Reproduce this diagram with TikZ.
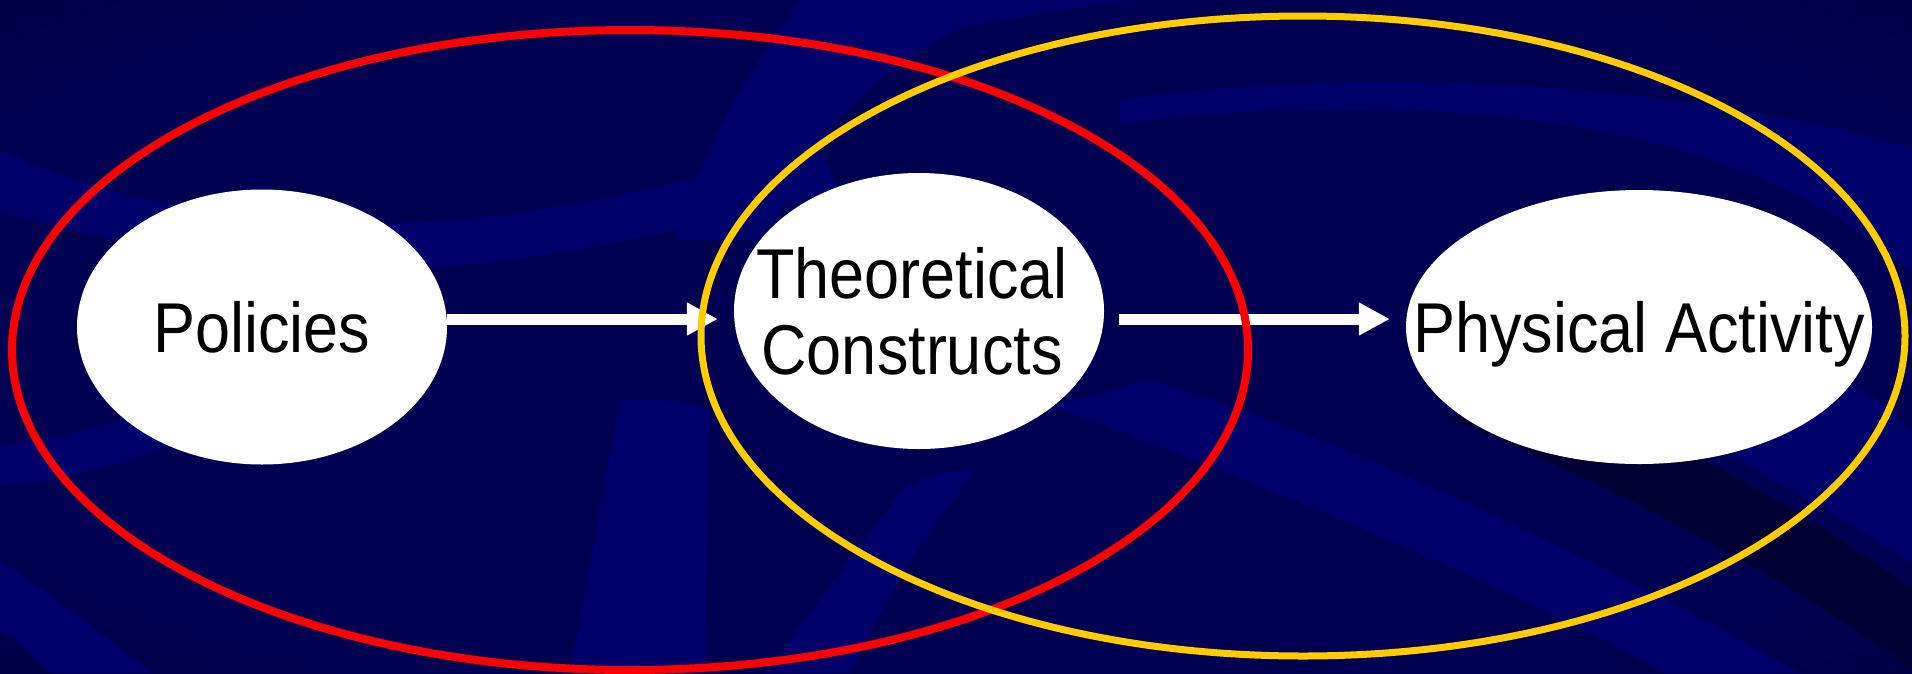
\documentclass[tikz,border=0pt]{standalone}
\usepackage{fontspec}
\setmainfont{Liberation Sans}
\usetikzlibrary{arrows.meta, shapes.geometric}

\definecolor{navydeep}{RGB}{0,0,26}
\definecolor{navyshade}{RGB}{0,0,50}
\definecolor{navymid}{RGB}{0,0,82}
\definecolor{navyband}{RGB}{0,0,106}
\definecolor{ringred}{RGB}{255,0,0}
\definecolor{ringgold}{RGB}{255,204,0}

\pgfdeclareradialshading{bgglow}{\pgfpoint{0bp}{0bp}}{color(0bp)=(navymid); color(28bp)=(navymid); color(50bp)=(navyshade); color(71bp)=(navydeep)}

\newcommand{\tallword}[1]{\scalebox{1}[1.12]{#1}}

\tikzset{
  bubble/.style={ellipse, fill=white, inner sep=0pt},
  words/.style={font=\fontsize{63}{76}\selectfont, text=black, align=center, inner sep=0pt, text depth=0pt},
  flow/.style={draw=white, line width=11pt, -{Triangle[length=31pt,width=31pt]}},
  ring/.style={line width=7pt},
  band/.style={fill=navyband},
  gap/.style={fill=navyshade},
}

\begin{document}
\begin{tikzpicture}[x=1pt, y=-1pt]
  \useasboundingbox (0,0) rectangle (1912,673);
  % background
  \shade[shading=bgglow] (0,0) rectangle (1912,673);
  \fill[band] (0,150) .. controls (120,205) and (260,228) .. (420,222)
    .. controls (560,215) and (680,180) .. (820,150) -- (840,190)
    .. controls (700,225) and (560,262) .. (420,268)
    .. controls (260,270) and (120,245) .. (0,212) -- cycle;
  \fill[band] (800,0) .. controls (740,80) and (700,160) .. (675,240) -- (770,240)
    .. controls (800,150) and (860,80) .. (960,28)
    .. controls (1060,10) and (1120,0) .. (1150,0) -- cycle;
  \fill[band] (1120,100) .. controls (1400,60) and (1700,90) .. (1912,147) -- (1912,273)
    .. controls (1830,200) and (1700,130) .. (1450,112)
    .. controls (1300,105) and (1200,112) .. (1120,125) -- cycle;
  \fill[band] (0,446) .. controls (50,438) and (100,428) .. (150,412) -- (175,444)
    .. controls (120,465) and (60,480) .. (0,486) -- cycle;
  \fill[band] (0,560) .. controls (60,600) and (110,640) .. (152,673) -- (50,673)
    .. controls (32,655) and (15,640) .. (0,630) -- cycle;
  \fill[band] (620,400) .. controls (660,398) and (690,402) .. (710,410) -- (705,673) -- (570,673) -- cycle;
  \fill[band] (905,486) .. controls (930,475) and (950,470) .. (975,470)
    .. controls (920,540) and (880,610) .. (850,673) -- (765,673) -- cycle;
  \fill[band] (1052,406) .. controls (1250,480) and (1500,580) .. (1665,673) -- (1800,673)
    .. controls (1600,560) and (1350,440) .. (1150,380) -- cycle;
  \fill[gap] (1450,419) .. controls (1650,500) and (1820,600) .. (1912,669) -- (1912,590)
    .. controls (1820,520) and (1680,440) .. (1560,400) -- cycle;
  \fill[band] (1733,456) .. controls (1800,495) and (1870,535) .. (1912,563) -- (1912,430)
    .. controls (1880,400) and (1850,380) .. (1820,370) -- cycle;

  % bubbles
  \node[bubble, minimum width=370pt, minimum height=275pt] (pol) at (262,327) {};
  \node[bubble, minimum width=370pt, minimum height=276pt] (tc) at (919,311) {};
  \node[bubble, minimum width=466pt, minimum height=274pt] (pa) at (1639,327) {};
  \node[words] (poltxt) at (pol) {\tallword{Policies}};
  \node[words] (tctxt) at ([xshift=-7pt]tc.center) {\tallword{Theoretical}\\\tallword{Constructs}};
  \node[words] (patxt) at (pa) {\tallword{Physical Activity}};

  % arrows
  \coordinate (lane) at (0,319);
  \draw[flow] (pol.east |- lane) -- ([xshift=-16pt]tc.west |- lane);
  \draw[flow] ([xshift=15pt]tc.east |- lane) -- ([xshift=-16pt]pa.west |- lane);

  % rings
  \draw[ring, ringred, line width=8pt] (630,350) ellipse [x radius=618, y radius=320];
  \draw[ring, ringgold] (1303,336) ellipse [x radius=602, y radius=320];
\end{tikzpicture}
\end{document}
